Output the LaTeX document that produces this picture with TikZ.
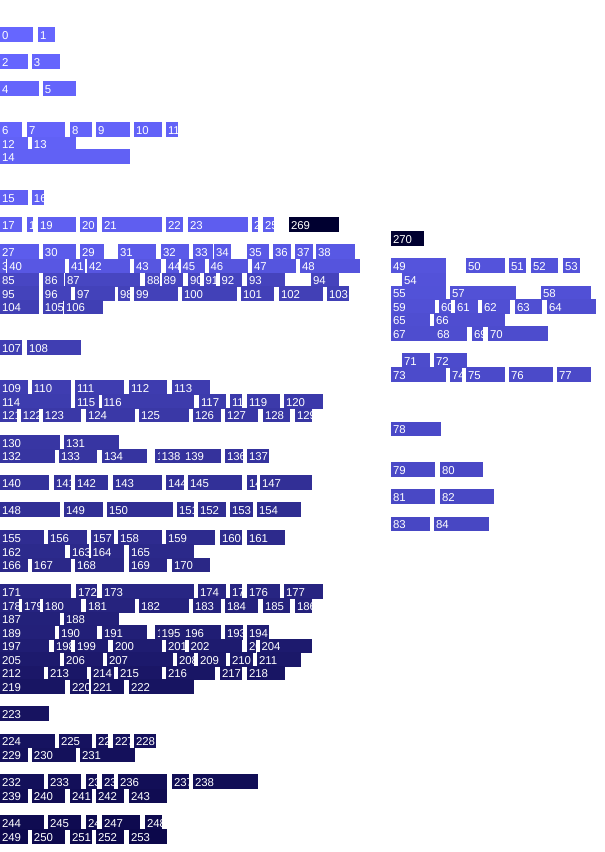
\documentclass[tikz,border=0pt]{standalone}
\usepackage{fontspec}
\setmainfont{Liberation Sans}
\definecolor{light}{RGB}{102,102,255}
\definecolor{dark}{RGB}{12,8,75}
\definecolor{vdark}{RGB}{0,0,48}
\newcommand\lbfont{\fontsize{11.4}{13}\selectfont}
\tikzset{
  boxst/.style={anchor=north west, inner sep=0pt, outer sep=0pt, minimum height=14.7pt, draw=none},
  lblst/.style={anchor=base west, inner sep=0pt, outer sep=0pt, text=white, font=\lbfont}
}
\newcommand\bx[4]{%
  \ifnum#1>253 \colorlet{bc}{vdark}\else
  \pgfmathsetmacro\pc{#1/2.53}\colorlet{bc}{dark!\pc!light}\fi
  \pgfmathsetmacro\bw{#3-#2}%
  \node[boxst, fill=bc, minimum width=\bw pt] (b#1) at (#2,-#4) {};
  \begin{scope}
    \clip (b#1.north west) rectangle (b#1.south east);
    \node[lblst] (t#1) at ([xshift=2pt,yshift=-12pt]b#1.north west) {#1};
  \end{scope}}
\begin{document}
\begin{tikzpicture}[x=1pt,y=1pt]
\useasboundingbox (0,0) rectangle (605,-852);
% rows
\bx{0}{0}{33}{27}\bx{1}{38}{55}{27}
\bx{2}{0}{28}{54}\bx{3}{32}{60}{54}
\bx{4}{0}{39}{81}\bx{5}{43}{76}{81}
\bx{6}{0}{22}{122}\bx{7}{27}{65}{122}\bx{8}{70}{92}{122}\bx{9}{96}{130}{122}\bx{10}{134}{162}{122}\bx{11}{166}{178}{122}
\bx{12}{0}{28}{136.5}\bx{13}{32}{76}{136.5}
\bx{14}{0}{130}{149}
\bx{15}{0}{28}{190}\bx{16}{32}{43.7}{190}
\bx{17}{0}{22}{217}\bx{18}{27}{33}{217}\bx{19}{38}{76}{217}\bx{20}{80}{97}{217}\bx{21}{102}{162}{217}\bx{22}{166}{183}{217}\bx{23}{188}{248}{217}\bx{24}{252}{258}{217}\bx{25}{263}{274}{217}
\bx{27}{0}{39}{244}\bx{28}{43}{76}{244}\bx{29}{80}{104}{244}\bx{30}{43}{76}{244}\bx{31}{118}{156}{244}\bx{32}{161}{189}{244}\bx{33}{193}{213}{244}\bx{34}{214}{231}{244}\bx{35}{247}{269}{244}\bx{36}{273}{291}{244}\bx{37}{295}{313}{244}\bx{38}{316}{355}{244}
\bx{39}{0}{6}{258.5}\bx{40}{7.3}{65}{258.5}\bx{41}{69}{85}{258.5}\bx{42}{87}{130}{258.5}\bx{43}{134}{161}{258.5}\bx{44}{166}{178.5}{258.5}\bx{45}{180.5}{205}{258.5}\bx{46}{208.5}{248}{258.5}\bx{47}{252}{296}{258.5}\bx{48}{300}{360}{258.5}
\bx{49}{391}{446}{258}\bx{50}{466}{505}{258}\bx{51}{509}{526}{258}\bx{52}{531}{558}{258}\bx{53}{563}{580}{258}
\bx{54}{402}{446}{272.5}
\bx{55}{391}{446}{285.5}\bx{57}{450}{516}{285.5}\bx{58}{541}{591}{285.5}
\bx{59}{391}{435}{299}\bx{60}{439}{451}{299}\bx{61}{455}{478}{299}\bx{62}{482}{510}{299}\bx{63}{515}{542}{299}\bx{64}{547}{596}{299}
\bx{65}{391}{430}{312.5}\bx{66}{434}{505}{312.5}
\bx{67}{391}{435}{326}\bx{68}{435}{467}{326}\bx{69}{472}{483}{326}\bx{70}{488}{548}{326}
\bx{71}{402}{430}{353}\bx{72}{434}{467}{353}
\bx{73}{391}{446}{367}\bx{74}{450}{462}{367}\bx{75}{466}{505}{367}\bx{76}{509}{553}{367}\bx{77}{557}{591}{367}
\bx{78}{391}{441}{421.5}
\bx{79}{391}{435}{462}\bx{80}{440}{483}{462}
\bx{81}{391}{435}{489}\bx{82}{440}{494}{489}
\bx{83}{391}{430}{516.5}\bx{84}{434}{489}{516.5}
\bx{85}{0}{39}{272.5}\bx{86}{43}{63.5}{272.5}\bx{87}{65}{140}{272.5}\bx{88}{145}{160}{272.5}\bx{89}{161.5}{183}{272.5}\bx{90}{188}{200}{272.5}\bx{91}{203.5}{216}{272.5}\bx{92}{219.5}{242}{272.5}\bx{93}{247}{285}{272.5}\bx{94}{311}{339}{272.5}
\bx{95}{0}{39}{286}\bx{96}{43}{71}{286}\bx{97}{75}{114.5}{286}\bx{98}{118}{130}{286}\bx{99}{134}{178}{286}\bx{100}{182}{237}{286}\bx{101}{241}{274}{286}\bx{102}{279}{323}{286}\bx{103}{327}{349}{286}
\bx{104}{0}{39}{299.5}\bx{105}{43}{63}{299.5}\bx{106}{64}{103}{299.5}
\bx{107}{0}{22}{340}\bx{108}{27}{81}{340}
\bx{109}{0}{28}{380}\bx{110}{32}{71}{380}\bx{111}{75}{124}{380}\bx{112}{129}{167}{380}\bx{113}{172}{210}{380}
\bx{114}{0}{71}{394}\bx{115}{75}{98.5}{394}\bx{116}{101.5}{194}{394}\bx{117}{199}{226}{394}\bx{118}{230}{242}{394}\bx{119}{247}{280}{394}\bx{120}{284}{323}{394}
\bx{121}{0}{17}{407.5}\bx{122}{21}{39}{407.5}\bx{123}{43}{81}{407.5}\bx{124}{86}{135}{407.5}\bx{125}{139}{189}{407.5}\bx{126}{193}{221}{407.5}\bx{127}{225}{258}{407.5}\bx{128}{263}{290}{407.5}\bx{129}{295}{312}{407.5}
\bx{130}{0}{60}{435}\bx{131}{64}{119}{435}
\bx{132}{0}{55}{448.5}\bx{133}{59}{97}{448.5}\bx{134}{102}{147}{448.5}\bx{135}{155}{221}{448.5}\bx{136}{225}{243}{448.5}\bx{137}{247}{269}{448.5}\bx{138}{159.5}{183}{448.5}\bx{139}{183}{221}{448.5}
\bx{140}{0}{49}{475}\bx{141}{54}{71}{475}\bx{142}{75}{108}{475}\bx{143}{113}{162}{475}\bx{144}{166}{184}{475}\bx{145}{188}{242}{475}\bx{146}{247}{256.5}{475}\bx{147}{260}{312}{475}
\bx{148}{0}{60}{502}\bx{149}{64}{103}{502}\bx{150}{107}{173}{502}\bx{151}{177}{194}{502}\bx{152}{198}{226}{502}\bx{153}{230}{253}{502}\bx{154}{257}{301}{502}
\bx{155}{0}{44}{530}\bx{156}{48}{87}{530}\bx{157}{91}{114}{530}\bx{158}{118}{162}{530}\bx{159}{166}{215}{530}\bx{160}{220}{242}{530}\bx{161}{247}{285}{530}
\bx{162}{0}{65}{544}\bx{163}{70}{88.5}{544}\bx{164}{90.5}{124}{544}\bx{165}{129}{194}{544}
\bx{166}{0}{28}{557.5}\bx{167}{32}{71}{557.5}\bx{168}{75}{124}{557.5}\bx{169}{129}{167}{557.5}\bx{170}{172}{210}{557.5}
\bx{171}{0}{71}{584}\bx{172}{76}{97}{584}\bx{173}{102}{194}{584}\bx{174}{198}{226}{584}\bx{175}{230}{242}{584}\bx{176}{247}{280}{584}\bx{177}{284}{323}{584}
\bx{178}{0}{19}{598}\bx{179}{22}{40}{598}\bx{180}{43}{81}{598}\bx{181}{86}{135}{598}\bx{182}{139}{189}{598}\bx{183}{193}{221}{598}\bx{184}{225}{258}{598}\bx{185}{263}{290}{598}\bx{186}{295}{312}{598}
\bx{187}{0}{60}{611.5}\bx{188}{64}{119}{611.5}
\bx{189}{0}{55}{625}\bx{190}{59}{97}{625}\bx{191}{102}{147}{625}\bx{192}{155}{221}{625}\bx{193}{225}{243}{625}\bx{194}{247}{269}{625}\bx{195}{159.5}{183}{625}\bx{196}{183}{221}{625}
\bx{197}{0}{49}{638.5}\bx{198}{54}{71}{638.5}\bx{199}{75}{108}{638.5}\bx{200}{113}{162}{638.5}\bx{201}{166}{184.5}{638.5}\bx{202}{188.5}{242}{638.5}\bx{203}{247}{256}{638.5}\bx{204}{259.5}{312}{638.5}
\bx{205}{0}{60}{652}\bx{206}{64}{103}{652}\bx{207}{107}{173}{652}\bx{208}{177}{194}{652}\bx{209}{198}{226}{652}\bx{210}{230}{253}{652}\bx{211}{257}{301}{652}
\bx{212}{0}{44}{665.5}\bx{213}{48}{87}{665.5}\bx{214}{91}{114}{665.5}\bx{215}{118}{162}{665.5}\bx{216}{166}{215}{665.5}\bx{217}{220}{242}{665.5}\bx{218}{247}{285}{665.5}
\bx{219}{0}{65}{679}\bx{220}{70}{88.5}{679}\bx{221}{91}{124}{679}\bx{222}{129}{194}{679}
\bx{223}{0}{49}{706}
\bx{224}{0}{55}{733.5}\bx{225}{59}{92}{733.5}\bx{226}{96}{108}{733.5}\bx{227}{113}{130}{733.5}\bx{228}{134}{156}{733.5}
\bx{229}{0}{28}{747.5}\bx{230}{32}{76}{747.5}\bx{231}{80}{135}{747.5}
\bx{232}{0}{44}{774}\bx{233}{48}{81}{774}\bx{234}{86}{97}{774}\bx{235}{102}{114}{774}\bx{236}{118}{167}{774}\bx{237}{172}{189}{774}\bx{238}{193}{258}{774}
\bx{239}{0}{28}{788.5}\bx{240}{32}{65}{788.5}\bx{241}{70}{92}{788.5}\bx{242}{96}{124}{788.5}\bx{243}{129}{167}{788.5}
\bx{244}{0}{44}{815}\bx{245}{48}{81}{815}\bx{246}{86}{97}{815}\bx{247}{102}{140}{815}\bx{248}{145}{162}{815}
\bx{249}{0}{28}{829}\bx{250}{32}{65}{829}\bx{251}{70}{92}{829}\bx{252}{96}{124}{829}\bx{253}{129}{167}{829}
\bx{269}{289}{339}{217}
\bx{270}{391}{424}{231}
\end{tikzpicture}
\end{document}
